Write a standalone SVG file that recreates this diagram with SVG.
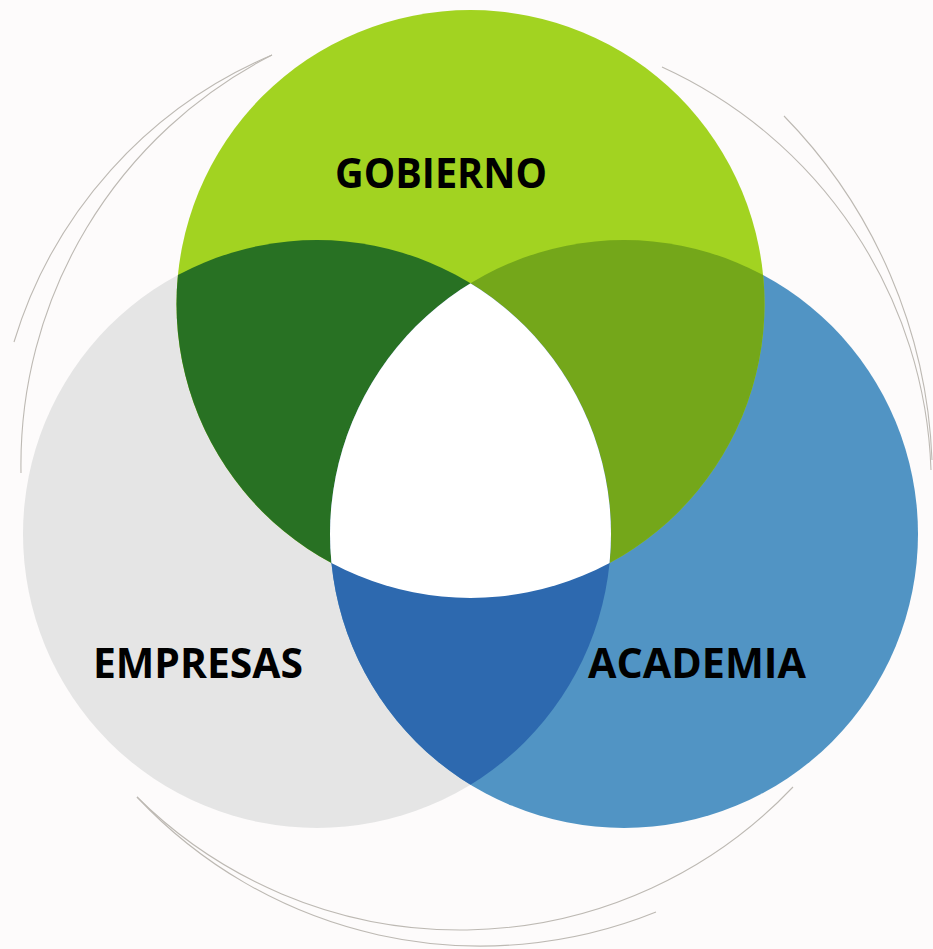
<svg xmlns="http://www.w3.org/2000/svg" width="933" height="949" viewBox="0 0 933 949">
  <style>
    .lbl { font-family: "Open Sans", "Noto Sans", "Liberation Sans", sans-serif; font-weight: bold; font-size: 42px; fill: #000000; text-anchor: middle; }
    .arc { fill: none; stroke: #BDB9B3; stroke-width: 1.1; }
  </style>
  <defs>
    <clipPath id="clipT"><circle cx="470.5" cy="304" r="294"/></clipPath>
    <clipPath id="clipL"><circle cx="317" cy="534" r="294"/></clipPath>
  </defs>
  <rect x="0" y="0" width="933" height="949" fill="#FDFBFB"/>

  <g id="decor-arcs">
    <path class="arc" d="M272,55 A455,455 0 0 0 14,342"/>
    <path class="arc" d="M272,55 A460,460 0 0 0 21,473"/>
    <path class="arc" d="M662,67 A460,460 0 0 1 931,470"/>
    <path class="arc" d="M784,116 A520,520 0 0 1 932,460"/>
    <path class="arc" d="M137,797 A459,459 0 0 0 793,787"/>
    <path class="arc" d="M137,797 A470,470 0 0 0 656,912"/>
  </g>

  <g id="empresas">
    <circle cx="317" cy="534" r="294" fill="#E5E5E5"/>
  </g>
  <g id="academia">
    <circle cx="624" cy="534" r="294" fill="#5194C4"/>
  </g>
  <g id="gobierno">
    <circle cx="470.5" cy="304" r="294" fill="#A2D321"/>
  </g>

  <g id="overlap-gobierno-empresas" clip-path="url(#clipT)">
    <circle cx="317" cy="534" r="294" fill="#287123"/>
  </g>
  <g id="overlap-gobierno-academia" clip-path="url(#clipT)">
    <circle cx="624" cy="534" r="294" fill="#74A71A"/>
  </g>
  <g id="overlap-empresas-academia" clip-path="url(#clipL)">
    <circle cx="624" cy="534" r="294" fill="#2D69AF"/>
  </g>
  <g id="center" clip-path="url(#clipT)">
    <g clip-path="url(#clipL)">
      <circle cx="624" cy="534" r="294" fill="#FFFFFF"/>
    </g>
  </g>

  <g id="labels">
    <text class="lbl" x="441" y="188" textLength="212" lengthAdjust="spacingAndGlyphs">GOBIERNO</text>
    <text class="lbl" x="198" y="678" textLength="210" lengthAdjust="spacingAndGlyphs">EMPRESAS</text>
    <text class="lbl" x="697" y="678" textLength="218" lengthAdjust="spacingAndGlyphs">ACADEMIA</text>
  </g>
</svg>
